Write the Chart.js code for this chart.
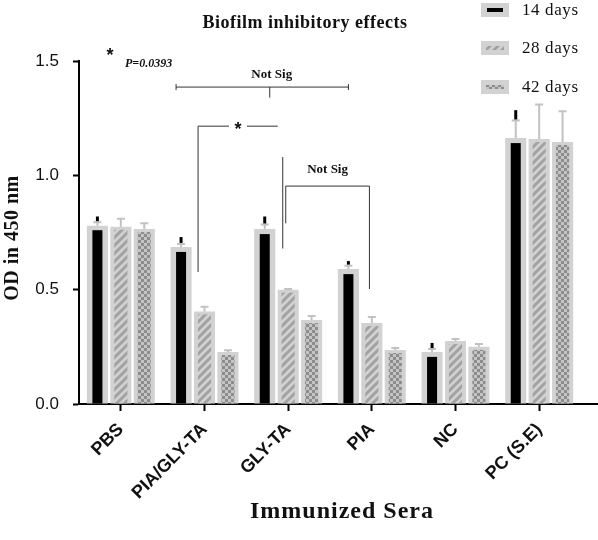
<!DOCTYPE html>
<html>
<head>
<meta charset="utf-8">
<script src="https://cdn.jsdelivr.net/npm/chart.js@4/dist/chart.umd.min.js"></script>
<style>
  html, body { margin: 0; padding: 0; background: #fff; }
  canvas { display: block; }
</style>
</head>
<body>
<canvas id="c" width="598" height="540"></canvas>
<script>
// ---- Data ----
const categories = ['PBS', 'PIA/GLY-TA', 'GLY-TA', 'PIA', 'NC', 'PC (S.E)'];
const seriesNames = ['14 days', '28 days', '42 days'];
const od14 = [0.78, 0.687, 0.765, 0.59, 0.227, 1.163];       // grey outer bar, 14 days
const od14Core = [0.76, 0.665, 0.743, 0.568, 0.206, 1.141];  // black inner bar, 14 days
const od28 = [0.775, 0.405, 0.50, 0.354, 0.275, 1.159];
const od42 = [0.765, 0.227, 0.367, 0.236, 0.25, 1.146];
const err14 = [0.795, 0.70, 0.785, 0.605, 0.24, 1.24];
const err14Core = [0.82, 0.73, 0.82, 0.625, 0.267, 1.285];
const err28 = [0.81, 0.425, 0.503, 0.38, 0.284, 1.31];
const err42 = [0.79, 0.235, 0.385, 0.245, 0.262, 1.28];
const yTicks = [0, 0.5, 1.0, 1.5];

const SERIF = '"Liberation Serif", "Times New Roman", serif';
const SANS = '"Liberation Sans", Arial, sans-serif';
const BAR_GREY = '#d2d2d2';

function makePattern(kind) {
  const c = document.createElement('canvas');
  const g = c.getContext('2d');
  if (kind === 'stripe') {
    c.width = 8; c.height = 8;
    g.fillStyle = BAR_GREY; g.fillRect(0, 0, 8, 8);
    g.strokeStyle = '#a2a2a2'; g.lineWidth = 3;
    g.beginPath();
    g.moveTo(-2, 2); g.lineTo(2, -2);
    g.moveTo(0, 8); g.lineTo(8, 0);
    g.moveTo(6, 10); g.lineTo(10, 6);
    g.stroke();
  } else {
    c.width = 6; c.height = 6;
    g.fillStyle = '#c4c4c4'; g.fillRect(0, 0, 6, 6);
    g.fillStyle = '#8c8c8c';
    g.fillRect(0, 0, 3, 3); g.fillRect(3, 3, 3, 3);
  }
  return c;
}

const overlay = {
  id: 'overlay',
  afterDatasetsDraw(chart) {
    const ctx = chart.ctx;
    const ys = chart.scales.y;
    const m = [0, 1, 2].map(i => chart.getDatasetMeta(i).data);
    const stripe = ctx.createPattern(makePattern('stripe'), 'repeat');
    const check = ctx.createPattern(makePattern('check'), 'repeat');

    ctx.save();
    ctx.fillStyle = '#000';
    m[0].forEach((bar, i) => {
      const top = ys.getPixelForValue(od14Core[i]);
      ctx.fillRect(bar.x - 5, top, 10, bar.base - top);
    });
    [[m[1], stripe], [m[2], check]].forEach(([bars, pat]) => {
      bars.forEach(bar => {
        ctx.fillStyle = pat;
        ctx.fillRect(bar.x - bar.width / 2 + 4, bar.y + 3, bar.width - 8, bar.base - bar.y - 3);
      });
    });
    const errs = [err14, err28, err42];
    ctx.strokeStyle = '#c2c2c2';
    ctx.lineWidth = 2;
    m.forEach((bars, d) => {
      bars.forEach((bar, i) => {
        const yt = ys.getPixelForValue(errs[d][i]);
        ctx.beginPath();
        ctx.moveTo(bar.x, bar.y); ctx.lineTo(bar.x, yt);
        ctx.moveTo(bar.x - 4, yt); ctx.lineTo(bar.x + 4, yt);
        ctx.stroke();
      });
    });
    ctx.strokeStyle = '#000';
    ctx.lineWidth = 3;
    m[0].forEach((bar, i) => {
      ctx.beginPath();
      ctx.moveTo(bar.x, ys.getPixelForValue(err14[i]) - 1);
      ctx.lineTo(bar.x, ys.getPixelForValue(err14Core[i]));
      ctx.stroke();
    });
    ctx.restore();
  },
  afterDraw(chart) {
    const ctx = chart.ctx;
    const ys = chart.scales.y;
    const area = chart.chartArea;
    const b = chart.getDatasetMeta(0).data;
    const py = v => ys.getPixelForValue(v);
    ctx.save();
    ctx.strokeStyle = '#000'; ctx.lineWidth = 2;
    ctx.beginPath(); ctx.moveTo(area.right - 1, area.bottom); ctx.lineTo(chart.width, area.bottom); ctx.stroke();

    // title
    ctx.fillStyle = '#111';
    ctx.textAlign = 'center'; ctx.textBaseline = 'middle';
    ctx.font = 'bold 18px ' + SERIF;
    ctx.letterSpacing = '0.5px';
    ctx.fillText('Biofilm inhibitory effects', 305, 23);

    // x-axis title
    ctx.font = 'bold 24px ' + SERIF;
    ctx.letterSpacing = '1px';
    ctx.fillText('Immunized Sera', 342, 512);

    // y-axis title
    ctx.save();
    ctx.translate(13, 238);
    ctx.rotate(-Math.PI / 2);
    ctx.font = 'bold 20px ' + SERIF;
    ctx.letterSpacing = '0.5px';
    ctx.fillText('OD in 450 nm', 0, 0);
    ctx.restore();

    // legend
    const legY = [10, 48, 87];
    const pats = [null, makePattern('stripe'), makePattern('check')];
    legY.forEach((ly, k) => {
      ctx.fillStyle = BAR_GREY;
      ctx.fillRect(481, ly - 7, 28, 14);
      if (k === 0) { ctx.fillStyle = '#000'; ctx.fillRect(487, ly - 2, 16, 4); }
      else {
        ctx.fillStyle = ctx.createPattern(pats[k], 'repeat');
        ctx.fillRect(486, ly - 2, 18, 4);
      }
      ctx.fillStyle = '#111';
      ctx.textAlign = 'left';
      ctx.font = '17px ' + SERIF;
      ctx.letterSpacing = '0.6px';
      ctx.fillText(seriesNames[k], 522, ly + 1);
    });
    ctx.letterSpacing = '0px';

    // significance annotations
    ctx.strokeStyle = '#333'; ctx.lineWidth = 1;
    ctx.fillStyle = '#111';
    const y1 = py(1.386);
    const xa = b[1].x - 5, xb = b[3].x, xc = b[2].x + 5;
    ctx.beginPath();
    ctx.moveTo(xa, y1); ctx.lineTo(xb, y1);
    ctx.moveTo(xa, y1 - 3); ctx.lineTo(xa, y1 + 3);
    ctx.moveTo(xb, y1 - 3); ctx.lineTo(xb, y1 + 3);
    ctx.moveTo(xc, y1); ctx.lineTo(xc, py(1.34));
    ctx.stroke();
    ctx.textAlign = 'center';
    ctx.font = 'bold 13px ' + SERIF;
    ctx.fillText('Not Sig', xc + 2, py(1.44));

    const y2 = py(1.215);
    const x2a = b[1].x + 17, x2b = b[2].x + 13, x2m = (x2a + x2b) / 2;
    ctx.beginPath();
    ctx.moveTo(x2a, py(0.577)); ctx.lineTo(x2a, y2); ctx.lineTo(x2m - 9, y2);
    ctx.moveTo(x2m + 9, y2); ctx.lineTo(x2b, y2);
    ctx.moveTo(b[2].x + 18, py(1.08)); ctx.lineTo(b[2].x + 18, py(0.68));
    ctx.stroke();
    ctx.font = 'bold 18px ' + SANS;
    ctx.fillText('*', x2m, y2 + 4);

    const y3 = py(0.953);
    const x3a = b[2].x + 21, x3b = b[3].x + 21;
    ctx.beginPath();
    ctx.moveTo(x3a, py(0.79)); ctx.lineTo(x3a, y3); ctx.lineTo(x3b, y3); ctx.lineTo(x3b, py(0.503));
    ctx.stroke();
    ctx.font = 'bold 13px ' + SERIF;
    ctx.fillText('Not Sig', (x3a + x3b) / 2, py(1.027));

    ctx.font = 'bold 18px ' + SANS;
    ctx.fillText('*', 110, 56);
    ctx.textAlign = 'left';
    ctx.font = 'bold italic 12px ' + SERIF;
    ctx.fillText('P=0.0393', 125, 64);
    ctx.restore();
  }
};

new Chart(document.getElementById('c'), {
  type: 'bar',
  data: {
    labels: categories,
    datasets: [
      { label: seriesNames[0], data: od14, backgroundColor: BAR_GREY },
      { label: seriesNames[1], data: od28, backgroundColor: BAR_GREY },
      { label: seriesNames[2], data: od42, backgroundColor: BAR_GREY }
    ]
  },
  options: {
    responsive: false,
    animation: false,
    devicePixelRatio: 1,
    categoryPercentage: 0.84,
    barPercentage: 0.9,
    layout: { padding: { top: 61, right: 17, left: 0, bottom: 0 } },
    plugins: { legend: { display: false }, tooltip: { enabled: false } },
    scales: {
      x: {
        offset: true,
        grid: { display: true, drawOnChartArea: false, offset: false, tickLength: 7, tickWidth: 2, tickColor: '#000' },
        border: { color: '#000', width: 2 },
        ticks: { color: '#111', font: { family: SANS, size: 18, weight: 'bold' }, minRotation: 45, maxRotation: 45, padding: 8, autoSkip: false },
        title: { display: false },
        afterFit: s => { s.height = 136; }
      },
      y: {
        min: 0, max: 1.5,
        afterBuildTicks: s => { s.ticks = yTicks.map(v => ({ value: v })); },
        ticks: { color: '#111', font: { family: SANS, size: 17 }, padding: 14, callback: v => Number(v).toFixed(1) },
        grid: { display: true, drawOnChartArea: false, tickLength: 6, tickWidth: 2, tickColor: '#000' },
        border: { color: '#000', width: 2 },
        title: { display: false },
        afterFit: s => { s.width = 79; }
      }
    }
  },
  plugins: [overlay]
});
</script>
</body>
</html>
